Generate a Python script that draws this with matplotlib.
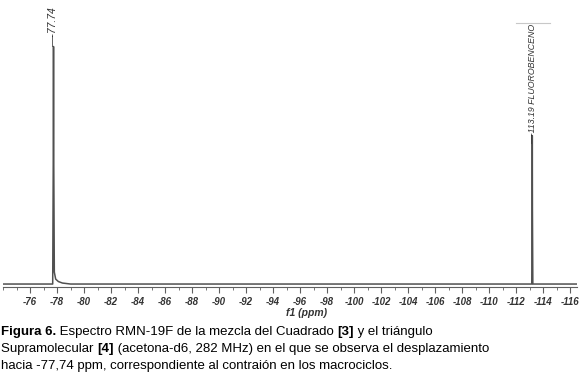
import matplotlib
matplotlib.use("Agg")
import matplotlib.pyplot as plt
from matplotlib.ticker import MultipleLocator

# spectrum (ppm, intensity in arbitrary units)
ppm = [-74.0, -77.68, -77.72, -77.74, -77.76, -77.80, -77.90, -78.10, -78.40, -79.0,
       -113.15, -113.18, -113.19, -113.20, -113.23, -116.5]
intensity = [0.0, 0.0, 120.0, 240.0, 120.0, 12.0, 5.0, 2.5, 1.0, 0.0,
             0.0, 75.0, 150.0, 75.0, 0.0, 0.0]

peak_ppm = [-77.74, -113.19]
peak_labels = ["-77.74", "-113.19 FLUOROBENCENO"]

tick_vals = list(range(-76, -117, -2))

caption = [
    [("Figura 6.", "bold"), (" Espectro RMN-19F de la mezcla del Cuadrado ", "normal"),
     ("[3]", "bold"), (" y el triángulo", "normal")],
    [("Supramolecular ", "normal"), ("[4]", "bold"),
     (" (acetona-d6, 282 MHz) en el que se observa el desplazamiento", "normal")],
    [("hacia -77,74 ppm, correspondiente al contraión en los macrociclos.", "normal")],
]

plt.rcParams['font.family'] = ['Liberation Sans', 'DejaVu Sans']

fig = plt.figure(figsize=(5.79, 3.79), dpi=100)
ax = fig.add_axes([3 / 579, 92 / 379, 574 / 579, 287 / 379])

ax.plot(ppm, intensity, color='#505050', lw=1.1)
ax.set_xlim(-74.0, -116.5)
ax.set_ylim(-3, 287)

for s in ['top', 'left', 'right']:
    ax.spines[s].set_visible(False)
ax.spines['bottom'].set_color('#606060')
ax.spines['bottom'].set_linewidth(0.8)
ax.set_yticks([])
ax.set_xticks(tick_vals)
ax.set_xticklabels([str(v) for v in tick_vals], fontstyle='italic', fontweight='bold',
                   fontsize=7, color='#333333')
ax.xaxis.set_minor_locator(MultipleLocator(1))
ax.tick_params(axis='x', which='major', length=4, width=0.8, color='#606060', pad=3)
ax.tick_params(axis='x', which='minor', length=2.5, width=0.6, color='#606060')
ax.set_xlabel('f1 (ppm)', fontstyle='italic', fontweight='bold', fontsize=7.5,
              color='#333333', va='center')
ax.xaxis.set_label_coords(0.528, -0.09)

# peak labels at the top
ax.text(peak_ppm[0], 240, '\u2014' + peak_labels[0], rotation=90, ha='center', va='bottom',
        fontsize=7.5, fontstyle='italic', color='#333333')
ax.text(peak_ppm[1], 141, '\u2014' + peak_labels[1], rotation=90, ha='center', va='bottom',
        fontsize=6.3, fontstyle='italic', color='#333333')
ax.plot([-112.0, -114.5], [264, 264], color='#c8c8c8', lw=0.8)

# caption, mixed bold / normal runs
renderer = fig.canvas.get_renderer()
baselines = [335, 352, 369]
for line, yb in zip(caption, baselines):
    x = 1.0
    for txt, w in line:
        t = fig.text(x / 579, 1 - yb / 379, txt, fontsize=9.5, fontweight=w,
                     ha='left', va='baseline')
        bb = t.get_window_extent(renderer=renderer)
        x += bb.width

fig.savefig('out.png', dpi=100)
